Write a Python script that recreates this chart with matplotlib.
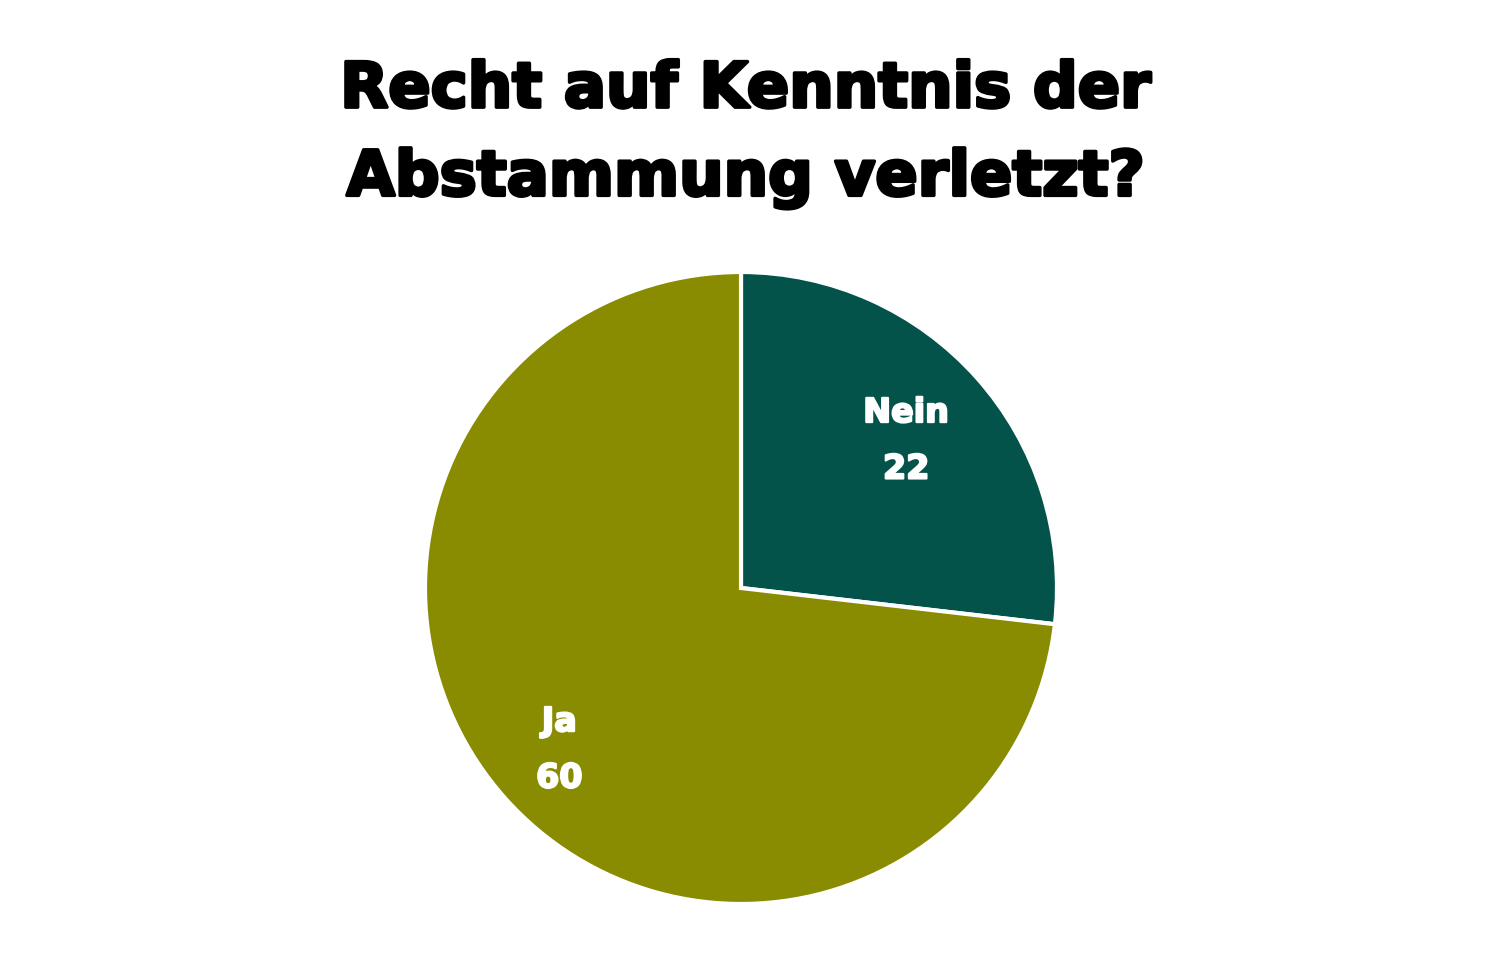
import numpy as np
import matplotlib.pyplot as plt
import matplotlib.patheffects as pe

labels = ['Nein', 'Ja']
values = [22, 60]
colors = ['#03534b', '#898b00']
label_dist = [0.70, 0.77]
title = 'Recht auf Kenntnis der\nAbstammung verletzt?'


def main():
    fig = plt.figure(figsize=(14.91, 9.59), dpi=100)
    # centre ~ (741, 588) px, radius ~ 316 px
    W, H, r = 1491, 959, 316
    ax = fig.add_axes([(741 - r) / W, (H - 588 - r) / H, 2 * r / W, 2 * r / H])

    wedges, _ = ax.pie(values, colors=colors, startangle=90, counterclock=False,
                       radius=1, wedgeprops=dict(edgecolor='white', linewidth=3))
    for w, l, v, d in zip(wedges, labels, values, label_dist):
        mid = np.deg2rad((w.theta1 + w.theta2) / 2)
        ax.text(d * np.cos(mid), d * np.sin(mid), f'{l}\n{v}', color='white',
                fontsize=24, fontweight='bold', family='DejaVu Sans',
                ha='center', va='center', linespacing=1.9,
                path_effects=[pe.withStroke(linewidth=1.5, foreground='white')])
    ax.set_xlim(-1, 1)
    ax.set_ylim(-1, 1)
    ax.set_aspect('equal')
    ax.axis('off')

    fig.text(0.5, 0.86, title, ha='center', va='center', fontsize=45,
             fontweight='bold', family='DejaVu Sans', linespacing=1.6,
             path_effects=[pe.withStroke(linewidth=2.5, foreground='black')])

    fig.savefig('out.png', dpi=100)


if __name__ == '__main__':
    main()
